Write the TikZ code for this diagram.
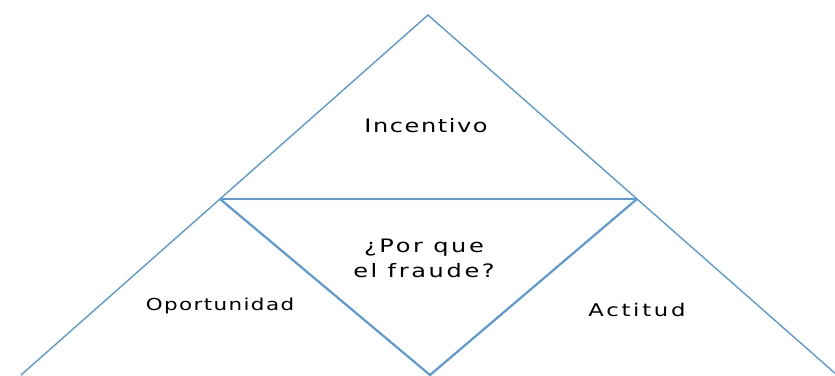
\documentclass[tikz,border=0pt]{standalone}
\usepackage{fontspec}
\setmainfont{DejaVu Sans}
\definecolor{lineblue}{HTML}{5B9BD5}
\begin{document}
\begin{tikzpicture}[x=1pt,y=-1pt,
  edge/.style={draw=lineblue,line width=1.4pt},
  inner/.style={draw=lineblue,line width=2.2pt},
  lbl/.style={align=center,xscale=1.3,transform shape,inner sep=0pt}]
\useasboundingbox (0,0) rectangle (835,375);
\coordinate (apex) at (428,15);
\coordinate (jl) at (220,199);
\coordinate (jr) at (637,199);
\coordinate (bot) at (430,375);
\coordinate (bl) at (21,375);
\coordinate (br) at (837,375);
\draw[edge] (bl) -- (jl) -- (apex) -- (jr) -- (br);
\draw[edge] (jl) -- (jr);
\draw[inner] (jl) -- (bot) -- (jr);
\node[lbl,font=\fontsize{18.5}{20}\selectfont\addfontfeature{LetterSpace=6.5}] (inc) at (426,126) {Incentivo};
\node[lbl,font=\fontsize{18.5}{25}\selectfont\addfontfeature{LetterSpace=11}] (pq) at (424,258) {¿Por que\\el fraude?};
\node[lbl,font=\fontsize{16.5}{18}\selectfont\addfontfeature{LetterSpace=6.5}] (op) at (220,306) {Oportunidad};
\node[lbl,font=\fontsize{17.5}{18}\selectfont\addfontfeature{LetterSpace=12}] (act) at (637,310) {Actitud};
\end{tikzpicture}
\end{document}
